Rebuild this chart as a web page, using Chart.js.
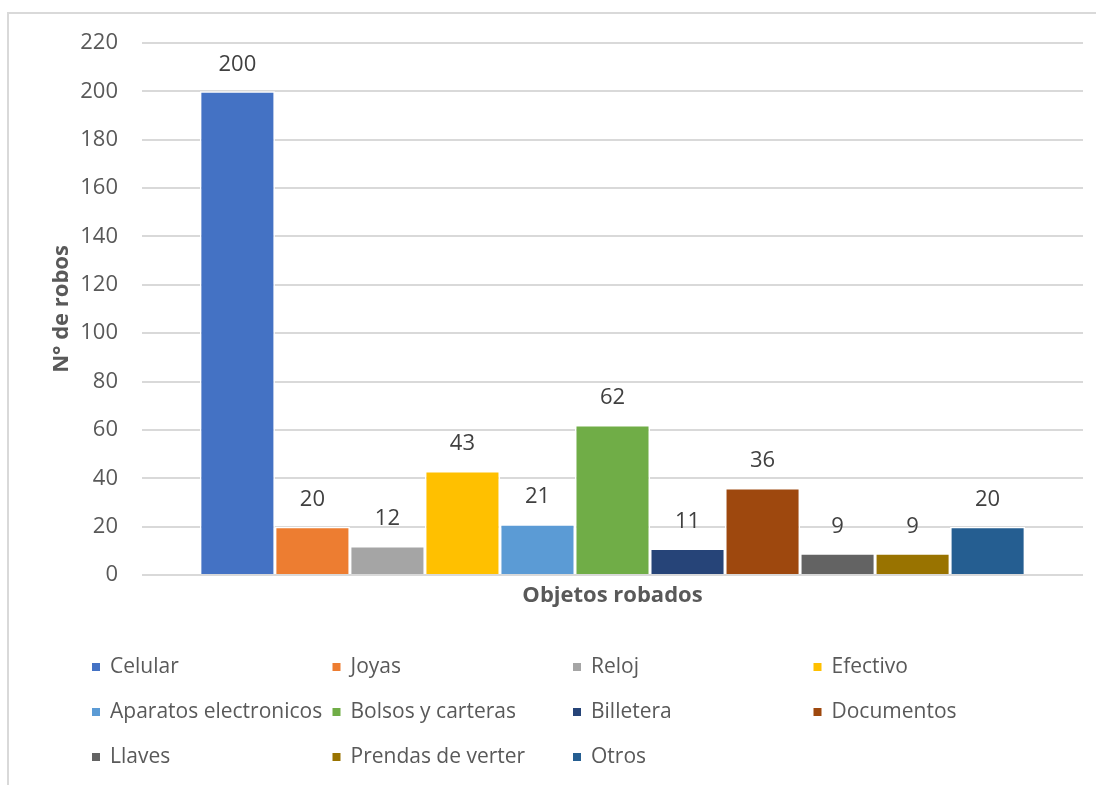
<!DOCTYPE html>
<html>
<head>
<meta charset="utf-8">
<script src="https://cdn.jsdelivr.net/npm/chart.js@4"></script>
<style>
    body { margin: 0; background: #fff; }
    #wrap { position: relative; width: 1096px; height: 785px; overflow: hidden; }
    #marco { position: absolute; left: 7px; top: 12px; width: 1200px; height: 900px;
             border-top: 2px solid #d9d9d9; border-left: 2px solid #d9d9d9; }
    canvas { position: absolute; left: 0; top: 0; }
</style>
</head>
<body>
<div id="wrap">
    <div id="marco"></div>
    <canvas id="robosChart" width="1096" height="785"></canvas>
</div>
<script>
// Datos del gráfico
const objetos = ['Celular', 'Joyas', 'Reloj', 'Efectivo', 'Aparatos electronicos', 'Bolsos y carteras',
                 'Billetera', 'Documentos', 'Llaves', 'Prendas de verter', 'Otros'];
const robos = [200, 20, 12, 43, 21, 62, 11, 36, 9, 9, 20];
const colores = ['#4472C4', '#ED7D31', '#A5A5A5', '#FFC000', '#5B9BD5', '#70AD47',
                 '#264478', '#9E480E', '#636363', '#997300', '#255E91'];
const categoria = ['Objetos robados'];

const fuente = "'Open Sans', 'Noto Sans', sans-serif";
const gris = '#595959';

// Etiquetas de valor encima de cada barra
const etiquetasValor = {
    id: 'etiquetasValor',
    afterDatasetsDraw(chart) {
        const ctx = chart.ctx;
        ctx.save();
        ctx.font = '22px ' + fuente;
        ctx.fillStyle = '#404040';
        ctx.textAlign = 'center';
        ctx.textBaseline = 'middle';
        chart.data.datasets.forEach((ds, i) => {
            chart.getDatasetMeta(i).data.forEach((bar, j) => {
                ctx.fillText(ds.data[j], bar.x, bar.y - 27);
            });
        });
        ctx.restore();
    }
};

// Leyenda en cuadrícula de 4 columnas
const leyendaGrid = {
    id: 'leyendaGrid',
    afterDraw(chart) {
        const ctx = chart.ctx;
        ctx.save();
        ctx.font = '21px ' + fuente;
        ctx.textBaseline = 'middle';
        ctx.textAlign = 'left';
        chart.data.datasets.forEach((ds, i) => {
            const col = i % 4, fila = Math.floor(i / 4);
            const x = 92 + col * 240.5;
            const y = 667 + fila * 45;
            ctx.fillStyle = ds.backgroundColor;
            ctx.fillRect(x, y - 4, 8, 8);
            ctx.fillStyle = gris;
            ctx.fillText(ds.label, x + 18, y);
        });
        ctx.restore();
    }
};

const robosChart = new Chart(document.getElementById('robosChart'), {
    type: 'bar',
    data: {
        labels: categoria,
        datasets: objetos.map((nombre, i) => ({
            label: nombre,
            data: [robos[i]],
            backgroundColor: colores[i],
            borderColor: '#ffffff',
            borderWidth: 1.5
        }))
    },
    options: {
        responsive: false,
        animation: false,
        layout: { padding: { left: 45, right: 13, top: 43, bottom: 172 } },
        categoryPercentage: 0.877,
        barPercentage: 1.0,
        plugins: {
            legend: { display: false },
            tooltip: { enabled: false }
        },
        scales: {
            x: {
                grid: { display: false },
                border: { display: false },
                ticks: { display: false },
                title: {
                    display: true,
                    text: 'Objetos robados',
                    color: gris,
                    font: { family: fuente, size: 22, weight: 'bold' }
                },
                afterFit(scale) { scale.height = 38; }
            },
            y: {
                min: 0,
                max: 220,
                ticks: {
                    stepSize: 20,
                    padding: 24,
                    color: gris,
                    font: { family: fuente, size: 22 }
                },
                grid: { color: '#d9d9d9', lineWidth: 2, drawTicks: false },
                border: { display: false },
                title: {
                    display: true,
                    text: 'N° de robos',
                    color: gris,
                    font: { family: fuente, size: 22, weight: 'bold' }
                },
                afterFit(scale) { scale.width = 97; }
            }
        }
    },
    plugins: [etiquetasValor, leyendaGrid]
});
</script>
</body>
</html>
